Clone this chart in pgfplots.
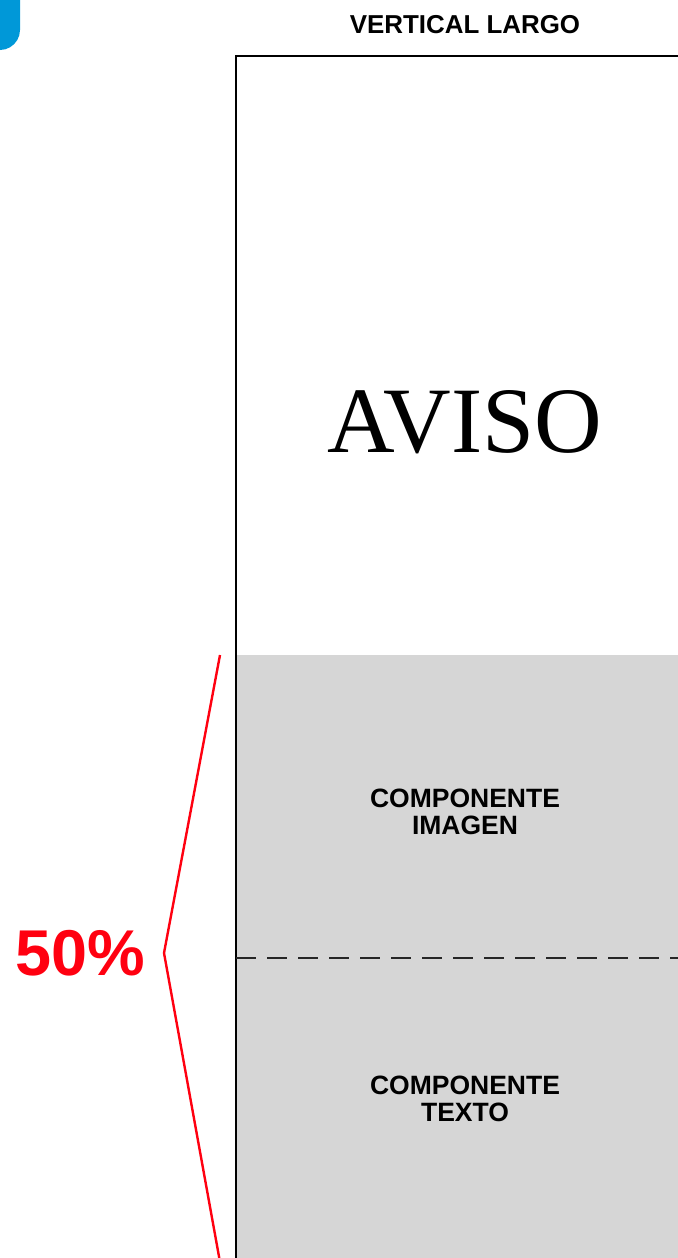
\documentclass[border=0pt]{standalone}
\usepackage{pgfplots}
\pgfplotsset{compat=1.18}
\usepackage{fontspec}
\setmainfont{Liberation Sans}
\newfontfamily\seriffont{Liberation Serif}
\definecolor{boxgray}{HTML}{D6D6D6}
\definecolor{brandblue}{HTML}{0098D8}
\definecolor{markred}{HTML}{FF0010}
\begin{document}
\begin{tikzpicture}
\begin{axis}[
  scale only axis, width=339bp, height=629bp,
  xmin=0, xmax=678, ymin=0, ymax=1258, y dir=reverse,
  hide axis, clip=true,
]
% grey components area
\addplot[fill=boxgray, draw=none] coordinates {(236,655) (700,655) (700,1300) (236,1300)} -- cycle;
% ad frame
\addplot[black, line width=1bp] coordinates {(235.5,1300) (235.5,55.5) (700,55.5)};
% dashed divider
\addplot[black!85, line width=0.8bp, dash pattern=on 10bp off 5.5bp, dash phase=0bp] coordinates {(236,958) (700,958)};
% red bracket
\addplot[markred, line width=1.2bp] coordinates {(220,655) (164,953) (220,1262)};
% blue corner shape
\addplot[fill=brandblue, draw=none] coordinates {(-5,-5) (20,-5) (20,30) (19.3,35.2) (17.3,40) (14.1,44.1) (10,47.3) (5.2,49.3) (0,50) (-5,50)} -- cycle;

\node[font=\bfseries\fontsize{13}{13}\selectfont] at (axis cs:465,25) {VERTICAL LARGO};
\node[font=\seriffont\fontsize{47}{47}\selectfont] at (axis cs:465,422) {AVISO};
\node[font=\bfseries\fontsize{13.3}{13.5}\selectfont, align=center] at (axis cs:465,812) {COMPONENTE\\IMAGEN};
\node[font=\bfseries\fontsize{13.3}{13.5}\selectfont, align=center] at (axis cs:465,1099) {COMPONENTE\\TEXTO};
\node[font=\bfseries\fontsize{32.5}{32.5}\selectfont, text=markred] at (axis cs:80,953) {50\%};
\end{axis}
\pgfresetboundingbox
\path (current axis.south west) rectangle (current axis.north east);
\end{tikzpicture}
\end{document}
